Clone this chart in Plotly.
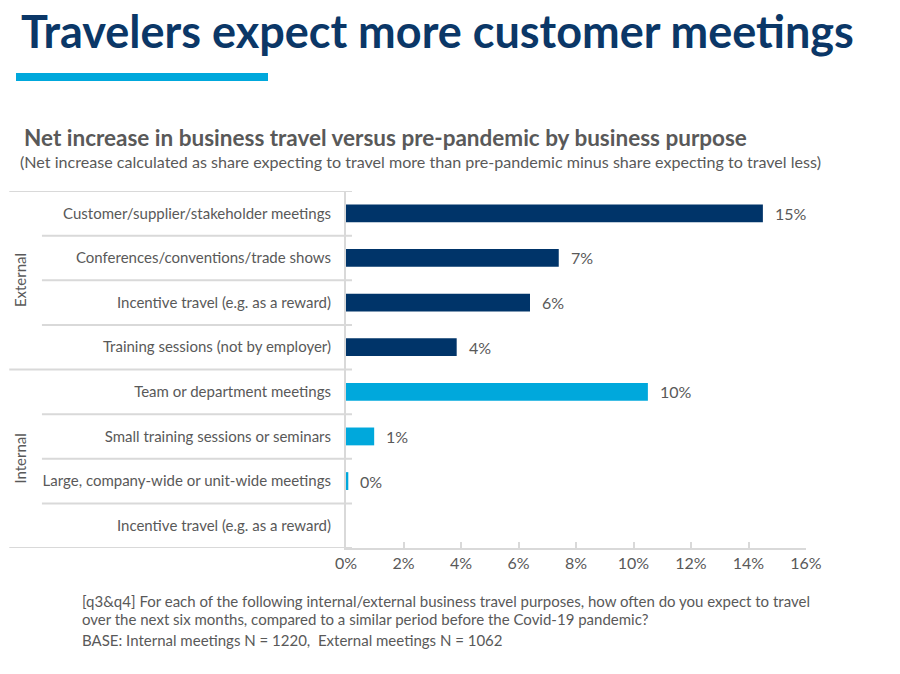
import plotly.graph_objects as go

# ---- data ----
categories = [
    "Customer/supplier/stakeholder meetings",
    "Conferences/conventions/trade shows",
    "Incentive travel (e.g. as a reward)",
    "Training sessions (not by employer)",
    "Team or department meetings",
    "Small training sessions or seminars",
    "Large, company-wide or unit-wide meetings",
    "Incentive travel (e.g. as a reward)",
]
groups = ["External"] * 4 + ["Internal"] * 4
values = [14.5, 7.4, 6.4, 3.85, 10.5, 0.98, 0.08, None]
value_labels = ["15%", "7%", "6%", "4%", "10%", "1%", "0%", ""]
x_ticks = [0, 2, 4, 6, 8, 10, 12, 14, 16]
x_tick_labels = [f"{t}%" for t in x_ticks]

DARK = "#003469"
LIGHT = "#00A8DC"
GRAY = "#595959"
LINE = "#D9D9D9"
FONT = "Lato"

colors = [DARK if g == "External" else LIGHT for g in groups]
ypos = list(range(len(categories)))

fig = go.Figure()
fig.add_trace(go.Bar(
    x=values, y=ypos, orientation="h",
    marker=dict(color=colors, line=dict(width=0)),
    hoverinfo="skip", width=0.4,
))

# value labels
for yv, v, lab in zip(ypos, values, value_labels):
    if v is None or not lab:
        continue
    fig.add_annotation(x=v, y=yv, xref="x", yref="y", text=lab, showarrow=False,
                       xanchor="left", xshift=10, font=dict(family=FONT, size=16, color=GRAY))

# row separators
n = len(categories)
for i in range(n + 1):
    yb = i - 0.5
    if i in (0, 4, n):
        x0 = -0.732
    else:
        x0 = -0.661
    fig.add_shape(type="line", xref="paper", yref="y", x0=x0, x1=0.013, y0=yb, y1=yb,
                  line=dict(color=LINE, width=2), layer="below")

# group labels
for g in ["External", "Internal"]:
    idx = [i for i, gg in enumerate(groups) if gg == g]
    fig.add_annotation(x=-0.709, y=(idx[0] + idx[-1]) / 2, xref="paper", yref="y",
                       text=g, textangle=-90, showarrow=False, xanchor="center",
                       font=dict(family=FONT, size=15, color=GRAY))

fig.update_layout(
    width=900, height=674,
    margin=dict(l=346, r=94, t=191, b=126),
    paper_bgcolor="white", plot_bgcolor="white",
    showlegend=False,
    bargap=0.6,
    font=dict(family=FONT, color=GRAY),
    xaxis=dict(range=[0, 16], tickvals=x_ticks, ticktext=x_tick_labels,
               showgrid=False, zeroline=False, showline=True, linecolor=LINE, linewidth=2,
               ticks="inside", ticklen=6, tickcolor=LINE, tickwidth=1.5,
               tickfont=dict(family=FONT, size=16, color=GRAY), fixedrange=True),
    yaxis=dict(range=[n - 0.5, -0.5], tickvals=ypos, ticktext=categories,
               showgrid=False, zeroline=False, showline=True, linecolor=LINE, linewidth=2,
               ticks="outside", ticklen=10, tickcolor="rgba(0,0,0,0)",
               tickfont=dict(family=FONT, size=15, color=GRAY), fixedrange=True),
)


def px_to_paper_x(px):
    return (px - 346) / (900 - 346 - 94)


def px_to_paper_y(py):
    return (674 - 126 - py) / (674 - 191 - 126)


fig.add_annotation(x=px_to_paper_x(19), y=px_to_paper_y(31), xref="paper", yref="paper",
                   text="<b>Travelers expect more customer meetings</b>", showarrow=False,
                   xanchor="left", yanchor="middle",
                   font=dict(family=FONT, size=45, color="#0B3767"))
fig.add_shape(type="rect", xref="paper", yref="paper",
              x0=px_to_paper_x(16), x1=px_to_paper_x(268), y0=px_to_paper_y(73), y1=px_to_paper_y(81),
              fillcolor=LIGHT, line=dict(width=0))
fig.add_annotation(x=px_to_paper_x(22), y=px_to_paper_y(137), xref="paper", yref="paper",
                   text="<b>Net increase in business travel versus pre-pandemic by business purpose</b>",
                   showarrow=False, xanchor="left", yanchor="middle",
                   font=dict(family=FONT, size=22.5, color=GRAY))
fig.add_annotation(x=px_to_paper_x(18), y=px_to_paper_y(161), xref="paper", yref="paper",
                   text="(Net increase calculated as share expecting to travel more than pre-pandemic minus share expecting to travel less)",
                   showarrow=False, xanchor="left", yanchor="middle",
                   font=dict(family=FONT, size=16.1, color=GRAY))
footnotes = [
    ("[q3&q4] For each of the following internal/external business travel purposes, how often do you expect to travel", 601),
    ("over the next six months, compared to a similar period before the Covid-19 pandemic?", 619),
    ("BASE: Internal meetings N = 1220,  External meetings N = 1062", 640),
]
for txt, py in footnotes:
    fig.add_annotation(x=px_to_paper_x(80), y=px_to_paper_y(py), xref="paper", yref="paper",
                       text=txt, showarrow=False, xanchor="left", yanchor="middle",
                       font=dict(family=FONT, size=15, color=GRAY))

fig.write_html("out.html")
